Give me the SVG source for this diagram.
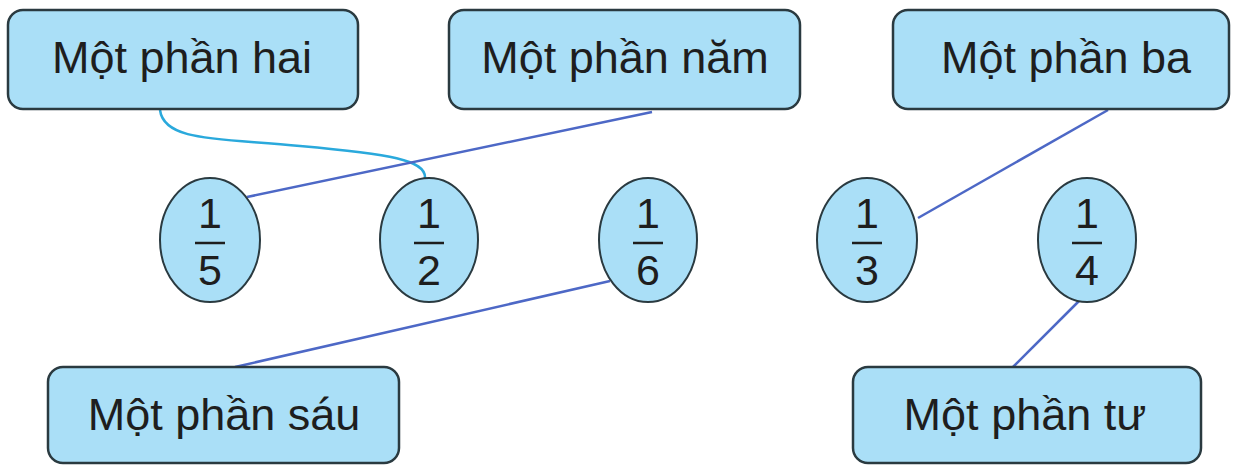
<svg xmlns="http://www.w3.org/2000/svg" width="1236" height="466" viewBox="0 0 1236 466">
<style>
.box{fill:#aadff7;stroke:#2a3a40;stroke-width:2.5}
.ov{fill:#aadff7;stroke:#2a3a40;stroke-width:2}
.t{font-family:"Liberation Sans",Arial,sans-serif;font-size:45px;fill:#1e1e1e;text-anchor:middle}
.n{font-family:"Liberation Sans",Arial,sans-serif;font-size:43px;fill:#1e1e1e;text-anchor:middle}
.bar{stroke:#1e1e1e;stroke-width:2.5}
.ln{fill:none;stroke:#4d68c6;stroke-width:2.5}
.cy{fill:none;stroke:#2aa9dc;stroke-width:2.5}
</style>
<rect width="1236" height="466" fill="#ffffff"/>
<g id="connectors">
<path class="cy" d="M160,110 C164,142 220,138 300,146 C390,154 426,160 425,178"/>
<line class="ln" x1="247" y1="197" x2="652" y2="112"/>
<line class="ln" x1="610" y1="281" x2="235" y2="367"/>
<line class="ln" x1="1108" y1="110" x2="918" y2="218"/>
<line class="ln" x1="1079" y1="301" x2="1013" y2="367"/>
</g>
<g id="n-hai"><rect class="box" x="8" y="10" width="350" height="99" rx="15"/><text class="t" x="182" y="73">Một phần hai</text></g>
<g id="n-nam"><rect class="box" x="449" y="10" width="351" height="99" rx="15"/><text class="t" x="625" y="73">Một phần năm</text></g>
<g id="n-ba"><rect class="box" x="893" y="10" width="336" height="99" rx="15"/><text class="t" x="1066" y="73">Một phần ba</text></g>
<g id="n-sau"><rect class="box" x="48" y="367" width="351" height="96" rx="15"/><text class="t" x="224" y="430">Một phần sáu</text></g>
<g id="n-tu"><rect class="box" x="853" y="367" width="348" height="96" rx="15"/><text class="t" x="1025" y="430">Một phần tư</text></g>
<g id="f-5"><ellipse class="ov" cx="210" cy="240" rx="50" ry="62"/><text class="n" x="210" y="228">1</text><line class="bar" x1="195" y1="243" x2="225" y2="243"/><text class="n" x="210" y="285">5</text></g>
<g id="f-2"><ellipse class="ov" cx="429" cy="240" rx="49" ry="62"/><text class="n" x="429" y="228">1</text><line class="bar" x1="414" y1="243" x2="444" y2="243"/><text class="n" x="429" y="285">2</text></g>
<g id="f-6"><ellipse class="ov" cx="648" cy="240" rx="49" ry="62"/><text class="n" x="648" y="228">1</text><line class="bar" x1="633" y1="243" x2="663" y2="243"/><text class="n" x="648" y="285">6</text></g>
<g id="f-3"><ellipse class="ov" cx="867" cy="240" rx="50" ry="62"/><text class="n" x="867" y="228">1</text><line class="bar" x1="852" y1="243" x2="882" y2="243"/><text class="n" x="867" y="285">3</text></g>
<g id="f-4"><ellipse class="ov" cx="1087" cy="240" rx="49" ry="62"/><text class="n" x="1087" y="228">1</text><line class="bar" x1="1072" y1="243" x2="1102" y2="243"/><text class="n" x="1087" y="285">4</text></g>
</svg>
